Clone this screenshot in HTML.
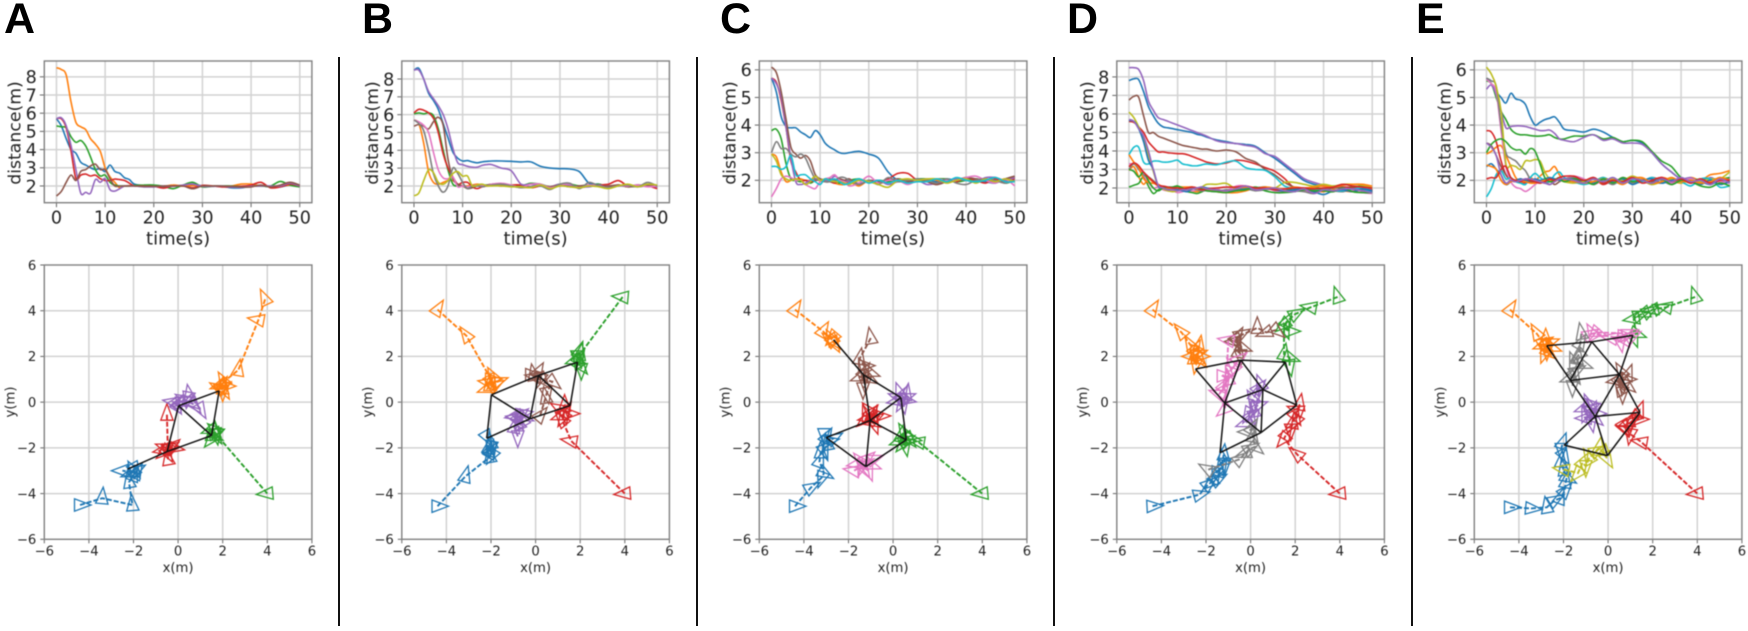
<!DOCTYPE html>
<html lang="en">
<head>
<meta charset="utf-8">
<title>Distance and trajectory panels A to E</title>
<style>
html,body{margin:0;padding:0;background:#fff;width:1748px;height:631px;overflow:hidden}
#stage{position:relative;width:1748px;height:631px;overflow:hidden}
#chart{position:absolute;left:0;top:0;filter:blur(.45px)}
text{font-family:"DejaVu Sans","Liberation Sans",sans-serif;fill:#222}
.letter{position:absolute;top:-5px;font:bold 43px/48px "Liberation Sans",sans-serif;color:#000}
.divider{position:absolute;top:57px;width:2px;height:569px;background:#111}
</style>
</head>
<body>
<div id="stage">
<div class="letter" style="left:4px">A</div>
<div class="letter" style="left:362px">B</div>
<div class="letter" style="left:720px">C</div>
<div class="letter" style="left:1067px">D</div>
<div class="letter" style="left:1416px">E</div>
<div class="divider" style="left:338px"></div>
<div class="divider" style="left:696px"></div>
<div class="divider" style="left:1053px"></div>
<div class="divider" style="left:1411px"></div>
<svg id="chart" width="1748" height="631" viewBox="0 0 1748 631"></svg>
</div>
<script>
const palette = ['#1f77b4','#ff7f0e','#2ca02c','#d62728','#9467bd','#8c564b','#e377c2','#7f7f7f','#bcbd22','#17becf'];
const panelNames = ['a','b','c','d','e'];
const timeTicks = [0,10,20,30,40,50];
const posTicks = [-6,-4,-2,0,2,4,6];
const distTicksTall = [2,3,4,5,6,7,8];
const distTicksShort = [2,3,4,5,6];
const times = [0,1,2,3,4,5,6,7,8,9,10,11,12,13,14,15,16,18,20,22,24,26,28,30,32,34,36,38,40,42,44,46,48,50];

const distanceA = [
[5.7,5.3,4.6,4.0,3.8,3.3,3.15,3.0,2.9,2.95,2.8,3.15,2.8,2.7,2.45,2.35,2.1,2.02,2.0,1.95,2.0,2.02,2.1,2.0,2.0,1.98,1.9,1.9,1.98,2.0,1.95,1.95,2.05,2.0],
[8.5,8.4,8.1,6.6,5.5,5.25,5.1,4.6,4.3,3.9,3.0,2.5,2.2,1.9,2.0,2.02,2.02,2.0,2.0,1.98,2.05,2.0,2.02,2.0,2.0,1.98,2.0,2.1,2.1,2.0,1.98,2.0,2.05,2.0],
[5.3,5.25,5.2,4.7,4.4,4.5,4.2,3.6,2.9,2.55,2.6,2.2,2.05,2.0,2.0,2.0,2.03,2.05,2.05,1.98,1.85,2.05,2.2,1.95,1.98,2.0,2.0,1.97,2.0,2.0,2.0,2.25,2.05,1.95],
[5.7,5.7,5.2,3.9,2.4,2.6,2.65,2.55,2.6,2.4,2.3,2.3,2.38,2.35,2.3,2.15,2.0,2.0,1.98,1.88,2.0,2.0,1.9,2.03,2.0,1.95,1.95,1.98,2.05,2.2,1.9,1.95,2.1,2.0],
[5.7,5.75,5.3,4.2,2.9,1.6,1.65,1.6,2.35,2.2,2.4,1.8,1.72,1.85,2.0,2.0,2.0,1.95,1.95,2.0,1.98,2.05,2.1,1.98,1.98,2.0,1.95,1.92,1.98,2.0,2.0,2.0,2.15,2.0],
[1.45,1.7,2.2,2.6,2.3,2.8,2.9,3.1,3.2,2.9,2.9,2.4,2.0,2.0,2.0,2.0,2.0,1.98,1.98,2.0,2.0,2.0,1.85,2.0,2.0,2.0,1.98,1.95,1.95,2.05,1.95,2.05,2.2,2.05]
];
const distanceB = [
[8.5,8.6,8.0,7.2,6.8,6.3,5.5,4.7,3.9,3.55,3.4,3.42,3.35,3.3,3.35,3.38,3.4,3.4,3.38,3.35,3.35,3.1,3.0,2.97,2.95,2.8,2.15,2.1,1.95,2.0,2.0,2.05,2.0,2.0],
[5.7,5.5,4.4,2.8,2.2,2.1,2.2,2.3,2.3,2.1,2.0,2.0,2.05,2.1,2.05,2.0,2.05,2.05,2.0,1.95,1.9,2.0,1.95,2.05,2.0,1.95,2.0,2.0,1.95,2.05,2.0,2.0,2.05,2.0],
[6.05,6.1,6.05,6.1,5.95,5.2,4.0,2.9,2.1,2.0,2.0,1.95,1.95,2.0,2.05,2.05,2.05,2.05,2.0,2.0,2.15,2.1,1.95,2.1,2.1,2.0,2.0,2.1,1.95,2.05,1.95,2.0,2.05,1.95],
[6.1,6.3,6.25,6.1,5.8,5.0,3.8,3.0,2.5,2.1,2.2,2.2,1.95,1.85,1.95,2.0,2.05,2.0,2.05,2.05,1.9,2.0,1.95,2.0,2.0,1.9,2.0,2.05,2.1,2.3,2.0,2.05,2.0,1.85],
[8.5,8.5,8.0,7.3,6.9,6.5,6.0,5.2,4.1,3.3,3.2,3.1,3.05,3.05,3.15,3.2,3.2,3.0,2.85,2.1,2.1,2.0,1.95,2.1,2.0,1.95,1.95,2.05,1.9,2.0,2.0,1.95,2.0,1.95],
[5.35,5.45,5.35,5.2,5.6,5.85,5.4,3.5,2.4,2.1,2.0,1.85,1.9,2.0,2.0,2.05,2.1,2.1,2.0,1.95,1.95,2.0,1.95,2.05,1.95,2.0,2.05,2.0,2.0,2.05,1.95,2.0,2.05,2.0],
[5.7,5.6,5.4,5.0,3.9,2.9,2.45,2.4,2.5,1.95,2.0,1.95,2.0,2.05,2.05,2.0,2.1,2.15,2.05,1.9,2.1,2.1,1.9,2.05,2.1,1.9,2.05,2.0,1.9,2.0,2.0,2.05,1.95,2.0],
[5.7,5.5,5.1,4.0,2.7,2.0,1.65,2.0,3.0,2.7,2.2,1.85,2.0,2.0,1.95,2.0,2.05,2.1,2.0,1.9,1.95,2.0,1.8,2.1,2.15,1.85,2.2,2.0,1.9,2.0,2.05,1.95,2.2,2.0],
[1.45,1.6,2.3,2.9,2.75,2.2,2.1,2.3,2.7,2.8,2.55,2.55,2.0,2.05,2.1,2.0,2.0,2.0,1.95,1.95,1.9,2.05,1.85,2.0,1.95,1.9,2.0,1.95,1.85,2.0,2.1,1.95,2.1,2.05]
];
const distanceC = [
[5.7,5.2,4.3,3.95,3.9,3.9,3.75,3.65,3.55,3.8,3.65,3.35,3.2,3.1,3.0,2.97,3.0,3.05,2.95,2.8,2.3,2.0,1.95,2.0,2.0,1.95,2.05,2.0,2.05,2.0,1.95,1.9,2.05,2.1],
[2.95,2.85,2.3,1.95,2.0,2.05,2.05,2.0,2.0,2.15,2.0,1.95,2.0,1.9,1.85,1.85,1.95,1.8,2.0,1.9,1.95,2.0,2.05,1.95,2.05,2.0,1.95,2.0,2.05,1.95,2.05,1.95,2.0,2.1],
[3.8,3.85,3.5,2.6,2.05,2.0,1.95,2.0,1.9,2.0,2.05,2.0,2.05,2.0,1.9,1.95,2.0,2.05,1.95,2.0,1.95,2.05,2.0,2.05,2.05,2.05,2.05,1.95,2.0,2.05,2.0,2.1,1.9,2.0],
[5.7,5.55,4.9,3.9,2.7,2.3,2.0,2.0,1.95,2.0,2.0,1.95,1.95,1.9,2.0,2.0,1.95,2.0,1.95,1.9,2.05,2.25,2.25,2.0,1.95,1.85,2.0,1.95,2.1,2.0,1.9,2.05,1.95,2.05],
[5.7,5.5,5.0,3.9,2.8,1.95,1.85,1.9,2.0,2.05,2.05,2.0,2.0,2.15,2.05,2.0,1.95,1.9,1.95,2.0,1.85,1.95,1.95,2.0,1.85,1.9,2.0,2.05,2.0,1.95,2.1,2.1,2.0,2.1],
[6.1,5.9,5.2,4.2,3.2,2.95,2.8,2.9,2.7,2.2,2.05,1.95,1.95,1.95,2.05,2.0,2.05,1.85,2.0,1.95,2.0,2.05,1.95,2.0,1.95,1.85,1.95,2.0,2.1,2.05,2.0,1.95,2.05,2.15],
[1.4,1.7,2.05,2.15,2.1,2.0,2.0,1.85,1.75,1.7,1.95,2.05,2.1,2.2,2.0,1.95,1.8,1.9,2.15,1.9,2.0,2.0,1.85,2.0,2.05,2.05,2.0,2.0,2.1,2.15,2.0,1.9,2.05,1.8],
[3.0,3.4,3.15,3.15,2.95,2.85,2.95,2.8,2.4,2.05,2.0,1.95,1.95,2.0,2.1,2.1,2.0,1.85,2.0,1.85,2.1,1.95,2.0,2.05,2.0,1.9,2.05,1.9,1.85,2.0,2.05,2.0,1.9,2.0],
[2.95,2.7,2.2,2.05,2.0,2.05,2.0,1.85,1.95,2.15,2.0,2.05,2.0,1.95,1.95,1.9,1.85,2.0,1.95,1.85,1.75,2.0,2.05,2.0,2.05,2.05,1.9,2.0,2.05,1.9,2.05,1.95,2.05,1.95],
[2.5,2.5,2.4,2.5,2.9,2.2,2.2,2.2,2.05,1.95,1.85,2.05,2.0,2.05,1.95,1.85,1.9,2.05,1.9,2.0,1.9,2.0,1.9,1.95,1.95,2.05,1.95,2.1,2.0,1.95,2.0,2.1,1.95,1.95]
];
const distanceD = [
[7.8,7.9,7.85,7.2,6.4,5.9,5.5,5.3,5.25,5.2,5.15,5.1,5.05,5.0,4.9,4.85,4.75,4.6,4.5,4.4,4.35,4.25,3.9,3.6,3.2,2.8,2.4,2.2,2.1,2.05,2.0,2.0,1.95,1.9],
[2.95,3.15,2.6,2.2,2.5,2.3,2.1,2.0,1.95,1.95,2.05,2.05,1.95,1.85,1.8,1.85,1.95,1.8,1.75,1.75,1.85,2.0,2.0,1.9,1.85,1.95,1.95,1.85,1.8,1.9,1.85,1.8,1.95,1.85],
[2.05,2.15,2.25,2.6,2.1,1.7,1.9,2.0,2.0,2.05,2.1,1.9,1.8,1.75,1.7,1.8,1.9,1.9,1.85,1.9,2.05,1.95,2.0,1.95,1.85,2.0,1.9,2.05,1.95,2.1,2.05,2.05,2.1,2.0],
[5.6,5.55,5.3,5.0,4.5,4.2,3.95,3.95,3.9,3.88,3.85,3.85,3.8,3.7,3.6,3.5,3.4,3.3,3.35,3.5,3.45,3.3,3.1,2.9,2.5,2.0,1.95,1.9,1.95,2.0,2.05,2.0,1.95,1.9],
[8.5,8.5,8.4,7.8,6.7,6.2,5.8,5.7,5.6,5.5,5.4,5.3,5.2,5.1,5.0,4.9,4.8,4.55,4.45,4.4,4.3,4.2,3.85,3.7,3.3,2.9,2.5,2.3,2.15,2.05,2.0,1.95,2.0,1.85],
[6.75,6.95,6.9,5.9,5.0,5.0,4.8,4.7,4.6,4.5,4.4,4.3,4.25,4.2,4.15,4.1,4.1,4.0,4.05,3.95,3.6,3.4,3.0,2.7,2.3,2.05,2.0,1.95,1.9,2.0,2.0,1.9,1.9,1.8],
[3.3,3.3,3.2,2.7,2.3,2.0,2.05,1.9,1.85,1.85,1.75,1.8,1.9,1.85,1.9,1.95,1.95,1.85,1.85,2.1,2.1,1.9,2.0,1.85,1.8,1.9,1.85,1.75,1.9,1.8,2.0,1.85,1.75,1.7],
[3.0,3.3,3.0,2.7,2.6,2.4,2.15,2.05,2.0,1.95,1.9,1.95,2.0,2.0,1.9,1.85,1.85,1.8,1.9,1.85,1.95,1.85,1.9,1.95,1.8,1.85,1.8,1.7,1.95,1.85,1.8,1.95,1.85,1.8],
[6.1,5.8,5.3,4.7,3.8,2.9,2.1,1.95,1.85,1.8,1.85,1.95,2.0,2.05,2.0,2.05,2.2,2.2,2.25,1.95,2.0,2.0,2.05,2.0,2.3,2.3,2.2,2.1,2.2,2.1,2.2,2.2,2.15,2.0],
[3.8,4.2,4.2,3.4,3.3,3.45,3.45,3.4,3.4,3.45,3.5,3.3,3.25,3.2,3.2,3.25,3.3,3.25,3.4,3.45,3.1,3.0,2.95,2.6,2.1,2.0,1.95,1.9,1.85,1.85,1.85,1.95,1.95,1.75],
[5.65,5.6,5.2,4.5,3.5,3.0,2.1,2.0,1.95,1.95,1.9,1.85,1.8,1.95,2.0,2.05,2.0,1.9,1.85,1.9,1.95,2.0,2.05,1.9,1.85,1.9,1.95,1.8,1.65,1.85,1.9,1.8,1.95,1.85],
[3.8,3.4,3.1,2.5,2.3,2.25,2.2,2.05,2.0,2.0,2.0,2.05,2.05,2.05,1.95,1.95,1.9,1.9,1.85,1.95,2.05,2.0,2.05,2.0,1.95,2.05,2.0,2.05,2.1,2.05,2.15,2.2,2.2,2.1],
[3.0,2.9,2.6,2.85,2.4,2.0,1.85,2.0,2.05,2.05,2.1,2.0,1.9,1.95,2.0,1.95,1.85,1.8,1.75,1.85,1.9,2.05,1.85,1.75,1.75,1.8,1.9,1.85,1.85,1.8,2.0,1.8,1.75,1.75],
[3.15,3.35,3.2,2.85,2.6,2.35,2.15,2.1,2.05,2.0,2.0,1.95,2.0,2.05,2.0,1.9,1.95,2.0,2.05,2.05,2.1,2.0,2.0,1.9,1.95,2.0,2.0,1.95,2.0,2.05,2.2,2.1,2.05,2.0],
[5.7,5.6,5.2,4.8,4.0,3.0,2.15,2.0,1.9,1.9,1.85,1.9,1.9,1.95,2.0,2.05,1.95,1.9,1.85,1.95,2.1,1.9,1.95,2.0,1.85,1.8,1.95,1.7,1.9,1.85,1.95,1.95,1.85,1.75]
];
const distanceE = [
[5.7,5.5,5.2,5.0,4.8,5.15,4.95,4.9,4.75,4.3,4.0,4.1,4.2,4.25,4.3,4.1,3.85,3.8,3.75,3.85,3.75,3.55,3.4,3.45,3.35,3.0,2.6,2.3,2.05,2.0,1.95,1.85,2.0,1.95],
[2.95,3.05,3.2,3.25,2.9,2.5,2.1,1.95,2.0,2.1,2.0,2.15,2.3,2.35,2.5,2.2,2.0,2.05,2.0,1.95,2.1,1.9,2.0,1.95,2.05,1.9,2.1,2.0,1.9,2.1,2.0,2.2,2.25,2.35],
[5.6,5.5,5.0,4.5,4.2,3.85,3.7,3.65,3.65,3.62,3.6,3.6,3.62,3.65,3.55,3.5,3.5,3.6,3.6,3.65,3.5,3.55,3.4,3.45,3.4,3.05,2.7,2.5,2.1,2.0,2.05,2.05,2.05,2.1],
[3.8,3.75,3.4,2.7,2.2,2.0,1.95,1.95,1.9,1.95,1.9,1.95,1.9,2.0,2.0,2.05,2.0,1.95,1.9,2.05,1.85,2.0,2.0,1.9,2.0,1.95,2.1,1.9,2.0,1.95,1.9,2.0,1.95,2.05],
[5.3,5.45,5.1,4.5,3.9,3.95,3.97,3.97,3.95,3.9,3.85,3.8,3.8,3.82,3.7,3.5,3.45,3.4,3.55,3.65,3.45,3.5,3.35,3.35,3.3,3.0,2.6,2.3,2.05,2.1,1.9,2.1,1.95,2.05],
[3.35,3.25,2.9,2.5,2.2,2.0,2.0,2.05,2.0,1.95,1.9,1.95,2.0,2.0,1.85,1.95,2.05,2.05,1.95,2.1,1.9,2.0,1.95,2.1,2.0,1.95,1.9,2.0,2.05,1.9,2.05,1.85,2.05,1.95],
[5.65,5.5,5.2,3.8,2.5,1.95,1.75,1.7,1.6,1.7,1.85,1.95,1.9,1.95,2.05,2.0,2.05,2.15,2.05,1.85,2.0,1.9,2.1,1.95,2.0,1.85,2.1,1.9,2.0,2.05,1.95,2.05,1.95,1.9],
[5.7,5.6,5.4,4.0,3.0,2.8,2.7,2.5,2.35,2.05,1.95,1.9,1.95,1.85,1.95,2.05,2.05,2.1,2.0,1.9,2.0,1.85,2.05,1.9,1.95,2.1,2.0,1.85,2.0,1.9,2.05,1.95,2.1,1.95],
[6.1,5.85,5.4,4.5,2.6,2.55,2.5,2.4,2.7,2.7,2.75,2.7,2.3,2.05,2.05,2.0,1.95,1.9,1.95,2.05,1.9,2.05,2.0,2.15,2.0,1.85,1.95,2.05,1.9,2.0,1.95,2.05,2.05,2.3],
[1.4,1.7,2.2,2.35,2.05,2.1,1.95,1.9,1.85,2.1,2.25,2.1,2.0,1.95,2.2,2.3,2.1,1.95,1.85,1.95,2.1,1.95,1.9,2.0,1.95,2.1,1.9,2.0,1.95,1.8,2.05,2.05,1.75,1.8],
[2.5,2.6,2.4,2.2,1.85,1.95,2.0,2.05,2.0,2.0,2.05,2.0,2.05,2.1,2.05,2.0,2.0,2.05,2.0,1.9,2.05,1.95,2.05,1.85,2.0,2.05,1.9,2.0,2.05,1.95,1.85,2.0,1.85,1.95],
[2.55,2.5,2.4,2.0,1.85,1.95,2.0,1.95,1.95,1.9,1.9,1.95,2.0,2.0,1.95,2.05,2.0,1.95,1.9,1.95,2.05,2.0,1.85,2.05,2.1,1.9,1.95,2.1,1.95,2.0,1.9,1.95,2.1,2.0],
[3.0,3.3,3.45,3.5,3.4,3.2,3.1,3.1,2.95,3.15,3.05,2.6,2.1,1.95,2.0,2.1,1.95,2.05,2.0,1.85,2.05,1.9,2.1,1.95,2.0,1.9,2.05,1.85,2.0,1.95,1.8,1.75,1.9,1.8],
[2.05,2.1,2.1,2.4,2.5,2.1,2.0,1.95,2.05,2.0,1.95,1.9,1.95,2.05,2.0,2.1,2.15,2.15,2.0,2.1,1.9,2.0,1.95,2.1,1.9,2.0,2.1,1.95,2.05,1.9,2.05,1.9,2.0,2.0],
[3.35,3.2,2.9,2.2,1.9,2.0,1.95,2.0,2.05,2.05,2.0,1.95,1.9,1.85,1.95,2.05,2.05,2.0,1.9,2.05,1.95,2.1,1.9,2.05,2.0,1.9,2.05,1.95,2.1,1.95,2.0,1.85,2.05,1.9]
];

const tracksA = [
[[-4.4,-4.5,0],[-3.4,-4.2,85],[-2.05,-4.5,95],[-2.2,-3.5,100],[-2.0,-3.2,70],[-1.9,-3.0,30],[-2.1,-3.1,200],[-1.95,-2.9,300],[-2.0,-3.0,120],[-1.85,-3.1,60],[-2.5,-3.0,180]],
[[3.9,4.5,115],[3.6,3.6,170],[2.7,1.4,80],[2.05,0.9,120],[1.95,0.65,30],[2.0,0.5,270],[1.9,0.75,200],[2.1,0.7,0],[1.85,0.6,150],[2.05,0.55,300],[1.95,0.7,60],[2.0,0.6,90]],
[[4.0,-4.0,185],[1.7,-1.4,-60],[1.5,-1.6,230],[1.65,-1.3,90],[1.55,-1.5,340],[1.7,-1.25,140],[1.5,-1.2,200],[1.6,-1.35,20],[1.7,-1.4,280]],
[[-0.5,-0.55,90],[-0.45,-2.5,100],[-0.5,-2.2,300],[-0.4,-2.05,10],[-0.65,-2.1,190],[-0.3,-1.95,40],[-0.55,-2.0,160],[-0.2,-2.0,350],[-0.6,-2.15,220],[-0.4,-2.0,30]],
[[1.0,-0.3,-60],[0.5,0.3,100],[0.6,0.0,-40],[0.7,-0.1,-50],[0.3,0.1,150],[0.1,0.0,200],[-0.2,0.0,170],[0.0,-0.15,60],[-0.1,-0.1,300],[0.2,0.05,20],[0.45,0.2,260]]
];
const tracksB = [
[[-4.4,-4.55,0],[-3.15,-3.25,75],[-2.05,-2.4,100],[-2.0,-2.2,60],[-2.1,-2.0,80],[-2.0,-1.95,260],[-1.95,-2.3,240],[-2.05,-2.1,70],[-2.0,-1.8,100],[-2.2,-1.5,-60]],
[[-4.4,4.05,58],[-3.1,2.9,125],[-2.0,1.0,0],[-2.1,0.85,170],[-1.85,0.7,30],[-2.15,0.6,200],[-1.9,1.1,120],[-2.0,0.95,300],[-1.7,0.9,20],[-2.05,0.75,90]],
[[3.9,4.6,175],[2.0,2.1,80],[1.95,1.9,60],[1.85,2.0,270],[2.0,1.6,310],[1.9,1.75,120],[1.8,1.85,200],[1.95,2.2,70],[2.05,1.45,270]],
[[4.0,-4.0,185],[1.6,-1.7,170],[1.2,-0.8,130],[1.3,-0.5,280],[1.15,-0.6,200],[1.35,-0.4,60],[1.5,-0.5,0],[1.1,-0.3,150],[1.3,-0.15,90],[1.25,-0.65,240]],
[[-0.8,-1.5,270],[-0.95,-1.1,80],[-0.8,-0.8,300],[-0.7,-0.6,40],[-0.6,-0.9,230],[-0.85,-0.7,170],[-0.6,-0.5,10],[-0.75,-0.95,110],[-0.55,-0.65,340],[-0.9,-0.6,190]],
[[0.2,-0.6,50],[0.45,0.2,100],[0.5,0.4,280],[0.75,0.9,-40],[0.3,1.0,310],[0.0,1.1,170],[-0.1,1.2,100],[0.2,1.05,250],[-0.2,1.2,0],[0.1,1.3,60]]
];
const tracksC = [
[[-4.4,-4.55,0],[-3.7,-3.75,30],[-3.2,-3.3,250],[-3.1,-3.1,330],[-3.3,-2.6,70],[-3.25,-2.2,90],[-3.1,-2.1,290],[-2.95,-1.85,100],[-3.0,-1.55,60],[-2.9,-1.7,10],[-2.7,-1.6,30],[-3.1,-1.4,270]],
[[-4.4,4.05,58],[-3.15,3.1,60],[-2.75,2.75,120],[-2.7,2.7,310],[-2.65,2.6,300],[-2.8,2.7,140],[-2.7,2.85,230]],
[[4.0,-4.0,185],[1.15,-1.75,170],[0.8,-1.6,-10],[0.55,-1.7,30],[0.35,-1.5,80],[0.55,-1.9,280],[0.3,-1.7,200],[0.5,-1.35,120],[0.7,-1.6,310],[0.45,-1.8,230]],
[[-1.0,-0.5,50],[-0.6,-0.6,0],[-1.1,-0.7,190],[-0.85,-0.95,290],[-1.2,-0.55,110],[-1.0,-0.85,330],[-1.25,-0.75,220],[-0.9,-0.6,70],[-1.05,-0.4,130],[-0.85,-0.75,30]],
[[0.4,0.3,60],[0.55,0.1,350],[0.25,0.2,160],[0.45,-0.05,280],[0.6,0.35,80],[0.3,0.4,110],[0.4,0.0,240],[0.55,0.2,20],[0.2,0.05,190]],
[[-1.0,2.8,100],[-1.5,1.9,80],[-1.3,1.6,0],[-1.3,1.3,60],[-1.1,1.05,-30],[-1.45,1.1,200],[-1.25,0.85,270],[-1.3,1.5,120],[-1.05,1.3,340],[-1.35,0.6,270]],
[[-1.75,-3.0,170],[-1.4,-2.8,250],[-1.2,-2.5,40],[-1.3,-2.9,300],[-0.9,-2.5,20],[-1.45,-2.6,130],[-1.1,-3.0,290],[-1.6,-2.7,190],[-1.0,-2.75,340]]
];
const tracksD = [
[[-4.4,-4.55,3],[-2.3,-4.05,15],[-1.9,-3.6,40],[-1.75,-3.5,220],[-1.6,-3.3,60],[-1.5,-3.4,30],[-1.4,-3.0,70],[-1.55,-3.1,250],[-1.3,-2.85,60],[-1.25,-2.5,100],[-1.2,-2.3,85],[-1.15,-2.7,270]],
[[-4.4,4.05,58],[-3.1,3.05,130],[-2.7,2.5,120],[-2.5,2.3,60],[-2.4,2.1,20],[-2.3,1.9,310],[-2.5,2.2,250],[-2.3,2.45,80],[-2.45,1.7,260],[-2.6,2.0,180],[-2.3,2.0,0],[-2.5,1.85,340]],
[[3.9,4.6,108],[2.7,4.15,170],[2.0,3.85,30],[1.6,3.5,60],[1.55,3.2,290],[1.75,3.1,0],[1.5,3.4,220],[1.5,2.1,80],[1.75,1.95,340],[1.75,1.6,280]],
[[4.0,-4.0,185],[2.1,-2.3,140],[1.5,-1.6,230],[1.6,-1.4,60],[1.8,-1.2,270],[1.9,-0.9,80],[2.0,-0.6,300],[2.1,-0.35,160],[2.2,-0.1,80],[2.05,-0.8,240]],
[[-0.2,-0.9,200],[0.0,-0.7,300],[0.15,-0.4,100],[-0.1,-0.5,240],[0.3,-0.15,20],[0.1,0.1,120],[0.2,0.3,70],[0.35,0.6,50],[0.45,0.75,110],[0.15,-0.6,280]],
[[1.15,3.15,-40],[0.7,3.05,200],[0.3,3.25,90],[-0.6,2.85,60],[-0.7,2.65,180],[-0.45,2.95,30],[-0.55,2.2,80],[-0.45,2.05,270],[-0.65,2.7,300],[-0.4,2.4,340]],
[[-1.0,2.7,170],[-1.15,-0.3,220],[-1.4,0.35,160],[-1.2,0.7,60],[-1.0,1.0,100],[-1.25,1.15,0],[-0.75,1.55,130],[-0.55,1.85,40],[-0.95,1.3,250],[-1.3,0.4,300]],
[[-1.9,-2.95,150],[-0.5,-2.5,40],[-0.25,-2.25,200],[-0.05,-2.05,30],[0.2,-1.95,320],[0.1,-1.5,80],[0.05,-1.15,60],[-0.1,-1.3,180]]
];
const tracksE = [
[[-4.4,-4.6,0],[-3.45,-4.65,-5],[-2.75,-4.6,100],[-2.4,-4.3,30],[-2.15,-4.2,70],[-1.95,-3.9,50],[-1.9,-3.5,80],[-1.85,-3.3,-30],[-2.0,-2.95,100],[-2.1,-2.6,85],[-2.0,-2.3,300],[-2.1,-2.05,270],[-2.05,-1.8,70]],
[[-4.4,4.05,58],[-3.2,3.0,120],[-2.9,2.6,30],[-2.8,2.45,300],[-2.75,2.3,270],[-2.9,2.5,200],[-2.65,2.6,20],[-2.8,2.75,90],[-2.7,2.2,320],[-2.85,2.15,250],[-2.55,2.4,340]],
[[3.9,4.6,108],[2.6,4.15,170],[2.3,4.1,20],[2.0,4.05,190],[1.8,3.95,30],[1.6,3.9,200],[1.4,3.8,20],[1.15,3.65,190],[1.25,3.0,-20],[1.15,2.85,290]],
[[4.0,-4.0,185],[1.5,-1.75,170],[1.0,-1.4,260],[0.8,-1.2,160],[0.7,-1.05,300],[1.0,-0.9,40],[1.2,-0.65,220],[1.4,-0.4,70],[1.35,-0.75,0],[0.9,-0.9,200]],
[[-1.0,-0.7,180],[-0.7,-0.4,70],[-0.9,-0.1,110],[-1.05,-0.25,200],[-0.6,-0.7,320],[-0.8,-0.3,30],[-0.55,-0.5,0],[-1.0,-0.45,250],[-0.75,-0.85,280],[-0.65,-0.15,140]],
[[0.65,0.4,270],[0.55,0.55,120],[0.5,0.9,300],[0.8,1.0,0],[0.9,1.2,70],[0.6,1.3,120],[0.7,0.75,260],[0.4,0.95,190],[0.85,0.75,320]],
[[1.05,2.85,30],[0.7,2.9,0],[0.15,2.8,170],[0.55,2.65,280],[0.85,2.75,60],[-0.7,3.0,120],[-0.85,2.95,30],[-0.5,3.05,340],[0.9,3.0,20]],
[[-1.2,3.0,100],[-1.25,2.55,60],[-1.3,2.1,220],[-1.55,1.75,110],[-1.15,1.65,340],[-1.45,1.35,30],[-1.7,1.05,200],[-1.5,1.2,300],[-1.6,0.7,270],[-1.35,1.9,80]],
[[-2.0,-2.95,170],[-1.35,-3.1,230],[-1.15,-2.65,60],[-1.0,-2.8,270],[-0.85,-2.45,120],[-0.55,-2.15,30],[-0.4,-2.0,80],[-0.05,-2.45,300],[-0.25,-2.15,200]]
];

const nodesA = [[-2.27,-2.93],[-0.49,-2.16],[1.5,-1.46],[1.84,0.49],[0.02,-0.16]];
const edgesA = [[0,1],[1,2],[1,4],[4,3],[3,2],[4,2]];
const nodesB = [[-2.19,-1.58],[-1.98,0.32],[0.13,1.17],[1.88,1.75],[1.55,-0.15],[-0.25,-0.73]];
const edgesB = [[0,5],[5,4],[0,1],[1,2],[2,3],[3,4],[4,2],[2,5],[1,5]];
const nodesC = [[-2.67,2.73],[-1.33,1.2],[0.35,0.2],[0.59,-1.65],[-1.03,-0.8],[-3.0,-1.55],[-1.22,-2.82]];
const edgesC = [[0,1],[1,2],[2,3],[3,4],[4,5],[5,6],[6,3],[1,4],[4,6],[4,2]];
const nodesD = [[-2.47,1.45],[-0.44,1.84],[1.56,1.75],[2.07,-0.13],[0.55,0.55],[-1.16,-0.04],[0.47,-1.33],[-1.37,-2.21]];
const edgesD = [[0,1],[1,2],[2,3],[3,4],[4,1],[4,2],[0,5],[1,5],[5,4],[5,7],[5,6],[7,6],[6,3],[6,4]];
const nodesE = [[-2.75,2.47],[-0.73,2.64],[1.11,2.92],[-1.7,0.95],[0.51,1.21],[1.43,-0.45],[-0.58,-0.63],[-1.97,-1.88],[-0.03,-2.34]];
const edgesE = [[0,1],[1,2],[0,6],[1,3],[3,4],[2,4],[4,6],[6,7],[7,8],[8,5],[8,6],[5,6],[5,4],[1,4]];

const distanceSets = [distanceA,distanceB,distanceC,distanceD,distanceE];
const trackSets = [tracksA,tracksB,tracksC,tracksD,tracksE];
const nodeSets = [nodesA,nodesB,nodesC,nodesD,nodesE];
const edgeSets = [edgesA,edgesB,edgesC,edgesD,edgesE];
const yRanges = [[1.08,8.87],[1.06,9.01],[1.19,6.32],[1.205,8.86],[1.19,6.32]];
const yTickSets = [distTicksTall,distTicksTall,distTicksShort,distTicksTall,distTicksShort];

const svg = document.getElementById('chart');
const NS = 'http://www.w3.org/2000/svg';
function mk(tag, attrs, parent){
  const el = document.createElementNS(NS, tag);
  for (const k in attrs) el.setAttribute(k, attrs[k]);
  (parent || svg).appendChild(el);
  return el;
}
function smooth(pts){
  let d = 'M' + pts[0][0].toFixed(1) + ' ' + pts[0][1].toFixed(1);
  for (let i = 0; i < pts.length - 1; i++){
    const a = pts[Math.max(0,i-1)], b = pts[i], c = pts[i+1], e = pts[Math.min(pts.length-1,i+2)];
    d += 'C' + (b[0]+(c[0]-a[0])/6).toFixed(1) + ' ' + (b[1]+(c[1]-a[1])/6).toFixed(1) + ' ' +
         (c[0]-(e[0]-b[0])/6).toFixed(1) + ' ' + (c[1]-(e[1]-b[1])/6).toFixed(1) + ' ' +
         c[0].toFixed(1) + ' ' + c[1].toFixed(1);
  }
  return d;
}
function label(str, x, y, size, anchor, rot, name, parent){
  const attrs = {x:x, y:y, 'font-size':size, 'text-anchor':anchor, dy:'.36em'};
  if (rot) attrs.transform = 'rotate(' + rot + ' ' + x + ' ' + y + ')';
  const t = mk('text', attrs, parent);
  
  
  t.textContent = String(str).replace('-', '\u2212');
  return t;
}
function gridLine(x1,y1,x2,y2,parent){
  const l = mk('line',{x1:x1,y1:y1,x2:x2,y2:y2,stroke:'#d2d2d2','stroke-width':1.5},parent);
  
  
}
function tick(x1,y1,x2,y2,parent){
  const l = mk('line',{x1:x1,y1:y1,x2:x2,y2:y2,stroke:'#666','stroke-width':1},parent);
  
  
}
function frame(x,y,w,h,parent){
  const r = mk('rect',{x:x,y:y,width:w,height:h,fill:'none',stroke:'#808080','stroke-width':1.4},parent);
  
  
}

const PW = 267.6, PERIOD = 357.5, LEFT = 44.3;

panelNames.forEach(function(name, p){
  const L = LEFT + p * PERIOD;
  const panel = mk('g', {});
  
  

  /* distance over time */
  const top = mk('g', {}, panel);
  
  
  const T0 = 61, T1 = 202.7;
  const sx = function(t){ return L + (t + 2.5) / 55 * PW; };
  const sy = function(v){ return T1 - (v - yRanges[p][0]) / (yRanges[p][1] - yRanges[p][0]) * (T1 - T0); };
  timeTicks.forEach(function(t){
    gridLine(sx(t),T0,sx(t),T1,top);
    tick(sx(t),T1,sx(t),T1+4.5,top);
    label(t, sx(t), 217, 17.6, 'middle', 0, 'x-tick-label', top);
  });
  yTickSets[p].forEach(function(v){
    gridLine(L,sy(v),L+PW,sy(v),top);
    tick(L-4.5,sy(v),L,sy(v),top);
    label(v, L-7.5, sy(v), 17.6, 'end', 0, 'y-tick-label', top);
  });
  distanceSets[p].forEach(function(vals, i){
    const pts = vals.map(function(v, k){ return [sx(times[k]), sy(v)]; });
    const line = mk('path',{d:smooth(pts),fill:'none',stroke:palette[i % 10],'stroke-width':1.6},top);
    
    
  });
  frame(L,T0,PW,T1-T0,top);
  label('time(s)', L+PW/2, 238, 18, 'middle', 0, 'x-axis-title', top);
  label('distance(m)', L-30, 133, 17.3, 'middle', -90, 'y-axis-title', top);

  /* trajectories */
  const bot = mk('g', {}, panel);
  
  
  const B0 = 265, B1 = 539.3;
  const px = function(v){ return L + (v + 6) / 12 * PW; };
  const py = function(v){ return B1 - (v + 6) / 12 * (B1 - B0); };
  posTicks.forEach(function(v){
    if (v > -6 && v < 6){
      gridLine(px(v),B0,px(v),B1,bot);
      gridLine(L,py(v),L+PW,py(v),bot);
    }
    tick(px(v),B1,px(v),B1+4,bot);
    tick(L-4,py(v),L,py(v),bot);
    label(v, px(v), 550.6, 13.2, 'middle', 0, 'x-tick-label', bot);
    label(v, L-8, py(v), 13.2, 'end', 0, 'y-tick-label', bot);
  });
  trackSets[p].forEach(function(track){
    const c = trackSets[p].indexOf(track);
    const d = track.map(function(q, k){ return (k ? 'L' : 'M') + px(q[0]).toFixed(1) + ' ' + py(q[1]).toFixed(1); }).join('');
    const path = mk('path',{d:d,fill:'none',stroke:palette[c],'stroke-width':1.9,'stroke-dasharray':'5 2'},bot);
    
    
    track.forEach(function(q){
      const a = q[2] * Math.PI / 180, cx = px(q[0]), cy = py(q[1]);
      const pt = function(f, s){
        return (cx + f*Math.cos(a) + s*Math.sin(a)).toFixed(1) + ',' + (cy - f*Math.sin(a) + s*Math.cos(a)).toFixed(1);
      };
      const tri = mk('polygon',{points:pt(11,0)+' '+pt(-5.5,6.2)+' '+pt(-5.5,-6.2),fill:'none',stroke:palette[c],'stroke-width':1.3,'stroke-linejoin':'miter'},bot);
      
      
    });
  });
  edgeSets[p].forEach(function(e){
    const a = nodeSets[p][e[0]], b = nodeSets[p][e[1]];
    const link = mk('line',{x1:px(a[0]),y1:py(a[1]),x2:px(b[0]),y2:py(b[1]),stroke:'#111','stroke-width':1.5},bot);
    
    
  });
  frame(L,B0,PW,B1-B0,bot);
  label('x(m)', L+PW/2, 567, 13.2, 'middle', 0, 'x-axis-title', bot);
  label('y(m)', L-34.5, 402, 13.2, 'middle', -90, 'y-axis-title', bot);
});
</script>
</body>
</html>
